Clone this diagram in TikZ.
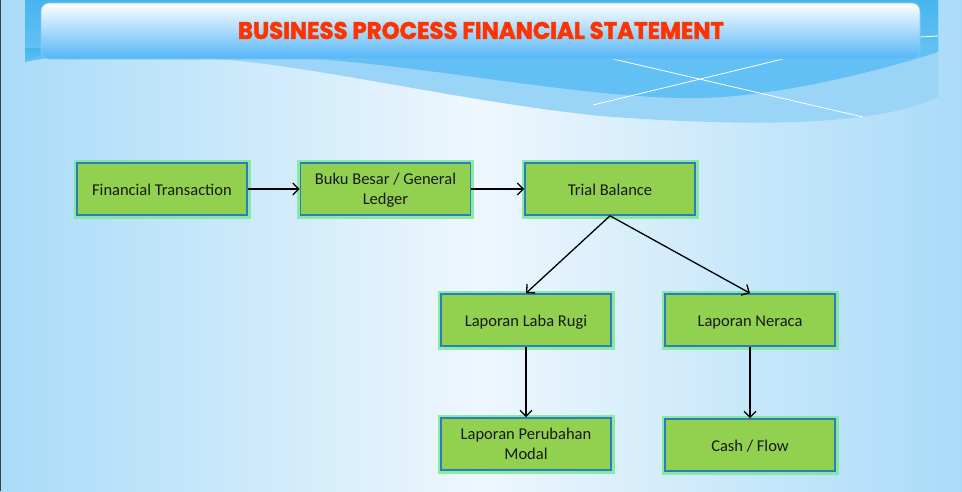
\documentclass[tikz,border=0pt]{standalone}
\usepackage{fontspec}
\setmainfont{Carlito}
\newfontfamily\titlefont[BoldFeatures={FakeBold=2}]{Poppins}
\usetikzlibrary{arrows.meta,positioning,shadows}
\definecolor{boxfill}{HTML}{92D050}
\definecolor{boxline}{HTML}{2A7DC0}
\definecolor{glow}{HTML}{78E88A}
\definecolor{band}{HTML}{48B4EE}
\definecolor{wavemid}{HTML}{62C0F4}
\definecolor{wavelight}{HTML}{9AD5F8}
\definecolor{titlered}{HTML}{FF3300}
\definecolor{bgedge}{HTML}{A9DBF8}
\definecolor{bgmid}{HTML}{EEF7FD}
\definecolor{hdrbot}{HTML}{52B6F8}
\definecolor{hdrmid}{HTML}{A8D9FA}
\newcommand{\onelinetext}[1]{\raisebox{-6.5pt}[0pt][0pt]{#1}}
\newcommand{\twolinetext}[2]{\raisebox{-15pt}[0pt][0pt]{\begin{tabular}[b]{@{}c@{}}#1\\#2\end{tabular}}}
\tikzset{
  procbox/.style={draw=boxline, line width=1.6pt, fill=boxfill,
    minimum width=170pt, minimum height=52pt, inner sep=2pt, align=center,
    font=\fontsize{16.5}{19.7}\selectfont, text=black!90,
    preaction={draw=glow, line width=7pt, opacity=0.8}},
  flow/.style={draw=black, line width=1.3pt,
    -{Straight Barb[length=6pt,width=12pt,line width=1.3pt]}},
}
\begin{document}
\begin{tikzpicture}[x=1pt,y=-1pt]
\useasboundingbox (0,0) rectangle (962,491);
% background
\shade[left color=bgedge, right color=bgedge, middle color=bgmid] (0,0) rectangle (962,491);
\fill[black!75] (0,0) rectangle (1.3,491);
% blue wave band
\fill[wavelight] (25,0) -- (938,0) -- (938,97)
  .. controls (880,125) and (760,128) .. (600,116)
  .. controls (450,100) and (300,62) .. (200,58)
  .. controls (120,52) and (60,50) .. (25,62) -- cycle;
\fill[wavemid] (25,0) -- (938,0) -- (938,52)
  .. controls (850,80) and (760,97) .. (700,98)
  .. controls (600,100) and (450,70) .. (330,60)
  .. controls (200,50) and (80,50) .. (25,62) -- cycle;
\shade[top color=band, bottom color=wavemid] (25,0) rectangle (938,48);
\shade[top color=band, bottom color=wavemid] (25,48) -- (41,48) -- (41,55) .. controls (35,57) and (30,60) .. (25,62) -- cycle;
% white lines
\draw[white, line width=0.8pt] (593,105) -- (783,59);
\draw[white, line width=0.8pt] (613,59) -- (863,117);
\draw[white, line width=0.8pt] (920,37) -- (938,36);
% header
\shade[rounded corners=8pt, top color=white, bottom color=hdrbot, middle color=hdrmid]
  (41,3) rectangle (920,59);
\draw[rounded corners=8pt, draw=band!70!white, line width=0.6pt] (41,3) rectangle (920,59);
\node (title) at (481,30.5) {\resizebox{486pt}{17pt}{\titlefont\bfseries\color{titlered}BUSINESS PROCESS FINANCIAL STATEMENT}};
% boxes
\node[procbox] (ft) at (162,189) {\onelinetext{Financial Transaction}};
\node[procbox] (bb) at (385.5,189) {\twolinetext{Buku Besar / General}{Ledger}};
\node[procbox] (tb) at (610,189) {\onelinetext{Trial Balance}};
\node[procbox] (lr) at (526,320) {\onelinetext{Laporan Laba Rugi}};
\node[procbox] (ln) at (750,320) {\onelinetext{Laporan Neraca}};
\node[procbox] (lp) at (526,444) {\twolinetext{Laporan Perubahan}{Modal}};
\node[procbox] (cf) at (750,445) {\onelinetext{Cash / Flow}};
% connectors
\draw[flow] (ft) -- (bb);
\draw[flow] (bb) -- (tb);
\draw[flow] (tb.south) -- (lr.north);
\draw[flow] (tb.south) -- (ln.north);
\draw[flow] (lr) -- (lp);
\draw[flow] (ln) -- (cf);
\end{tikzpicture}
\end{document}
